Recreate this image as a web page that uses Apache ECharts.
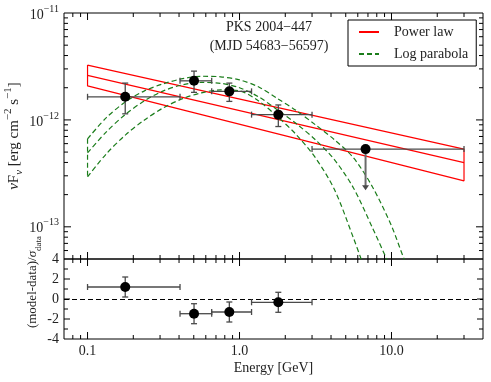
<!DOCTYPE html>
<html>
<head>
<meta charset="utf-8">
<script src="https://cdn.jsdelivr.net/npm/echarts@6/dist/echarts.min.js"></script>
<style>
  html, body { margin: 0; padding: 0; background: #fff; }
  #chart { width: 491px; height: 382px; }
</style>
</head>
<body>
<div id="chart"></div>
<script>
const FONT = 'Liberation Serif';

// flux points (GeV, erg cm^-2 s^-1)
const ptE = [0.177, 0.502, 0.857, 1.80];
const ptF = [1.645e-12, 2.32e-12, 1.85e-12, 1.12e-12];
const ptElo = [0.1, 0.406, 0.656, 1.2];
const ptEhi = [0.406, 0.656, 1.2, 3.0];
const ptFlo = [1.14e-12, 1.81e-12, 1.49e-12, 8.67e-13];
const ptFhi = [2.21e-12, 2.86e-12, 2.21e-12, 1.38e-12];

// upper limit bin
const ulE = [6.75];
const ulF = [5.33e-13];
const ulElo = [3.0];
const ulEhi = [30];
const ulArrowTo = [2.2e-13];

// power law: best fit and band edges at 0.1 and 30 GeV
const plE = [0.1, 30];
const plMid = [2.61e-12, 3.99e-13];
const plHi = [3.26e-12, 5.33e-13];
const plLo = [2.08e-12, 2.69e-13];

// log parabola curves
const lpE = [0.1, 0.133, 0.178, 0.237, 0.316, 0.422, 0.562, 0.75, 1.0, 1.33, 1.78, 2.37, 3.16, 4.22, 5.62, 7.5, 10, 12.1, 13.3];
const lpHi = [6.65e-13, 1.05e-12, 1.48e-12, 1.87e-12, 2.18e-12, 2.43e-12, 2.56e-12, 2.53e-12, 2.37e-12, 2.04e-12, 1.58e-12, 1.22e-12, 8.99e-13, 6.51e-13, 4.42e-13, 2.36e-13, 1.02e-13, 5.0e-14, 3.8e-14];
const lpMid = [4.92e-13, 7.74e-13, 1.13e-12, 1.51e-12, 1.87e-12, 2.13e-12, 2.24e-12, 2.20e-12, 2.00e-12, 1.65e-12, 1.24e-12, 9.19e-13, 6.51e-13, 4.23e-13, 2.31e-13, 9.77e-14, 3.95e-14];
const lpLoE = [0.1, 0.133, 0.178, 0.237, 0.316, 0.422, 0.562, 0.75, 1.0, 1.33, 1.78, 2.37, 3.16, 4.22, 5.62, 6.31, 7.08];
const lpLo = [2.93e-13, 4.82e-13, 7.25e-13, 1.00e-12, 1.30e-12, 1.58e-12, 1.79e-12, 1.91e-12, 1.87e-12, 1.51e-12, 1.07e-12, 7.25e-13, 4.42e-13, 2.22e-13, 7.87e-14, 5.0e-14, 3.18e-14];

// residuals (model-data)/sigma
const res = [1.2, -1.47, -1.3, -0.33];
const resErr = [1, 1, 1, 1];

// tick positions
const xMajor = [0.1, 1, 10];
const xMinor = [0.08, 0.09, 0.2, 0.3, 0.4, 0.5, 0.6, 0.7, 0.8, 0.9, 2, 3, 4, 5, 6, 7, 8, 9, 20, 30];
const yMajor = [1e-13, 1e-12];
const yMinor = [6e-14, 7e-14, 8e-14, 9e-14, 2e-13, 3e-13, 4e-13, 5e-13, 6e-13, 7e-13, 8e-13, 9e-13,
                2e-12, 3e-12, 4e-12, 5e-12, 6e-12, 7e-12, 8e-12, 9e-12];
const rMajor = [-2, 0, 2];
const rMinor = [-3, -1, 1, 3];

const chart = echarts.init(document.getElementById('chart'), null, {renderer: 'canvas'});

const zip = (xs, ys) => xs.map((x, i) => [x, ys[i]]);

function xTicks(gi, anchor, vals, len) {
  return {
    type: 'custom', xAxisIndex: gi, yAxisIndex: gi, silent: true, clip: false, z: 6,
    data: vals.map(v => [v, anchor]),
    renderItem: (params, api) => {
      const cs = params.coordSys;
      const x = api.coord([api.value(0), api.value(1)])[0];
      const st = {stroke: '#000', lineWidth: 1};
      return {type: 'group', children: [
        {type: 'line', shape: {x1: x, y1: cs.y + cs.height, x2: x, y2: cs.y + cs.height - len}, style: st},
        {type: 'line', shape: {x1: x, y1: cs.y, x2: x, y2: cs.y + len}, style: st}
      ]};
    }
  };
}

function yTicks(gi, anchor, vals, len) {
  return {
    type: 'custom', xAxisIndex: gi, yAxisIndex: gi, silent: true, clip: false, z: 6,
    data: vals.map(v => [anchor, v]),
    renderItem: (params, api) => {
      const cs = params.coordSys;
      const y = api.coord([api.value(0), api.value(1)])[1];
      const st = {stroke: '#000', lineWidth: 1};
      return {type: 'group', children: [
        {type: 'line', shape: {x1: cs.x, y1: y, x2: cs.x + len, y2: y}, style: st},
        {type: 'line', shape: {x1: cs.x + cs.width, y1: y, x2: cs.x + cs.width - len, y2: y}, style: st}
      ]};
    }
  };
}

// error bars with caps: [x, y, xlo, xhi, ylo, yhi]
function errBars(gi, rows) {
  return {
    type: 'custom', xAxisIndex: gi, yAxisIndex: gi, silent: true, clip: false, z: 7,
    data: rows,
    renderItem: (params, api) => {
      const l = api.coord([api.value(2), api.value(1)]);
      const r = api.coord([api.value(3), api.value(1)]);
      const b = api.coord([api.value(0), api.value(4)]);
      const t = api.coord([api.value(0), api.value(5)]);
      const cap = 3;
      const st = {stroke: '#4a4a4a', lineWidth: 1.3};
      return {type: 'group', children: [
        {type: 'line', shape: {x1: l[0], y1: l[1], x2: r[0], y2: r[1]}, style: st},
        {type: 'line', shape: {x1: l[0], y1: l[1] - cap, x2: l[0], y2: l[1] + cap}, style: st},
        {type: 'line', shape: {x1: r[0], y1: r[1] - cap, x2: r[0], y2: r[1] + cap}, style: st},
        {type: 'line', shape: {x1: b[0], y1: b[1], x2: t[0], y2: t[1]}, style: st},
        {type: 'line', shape: {x1: b[0] - cap, y1: b[1], x2: b[0] + cap, y2: b[1]}, style: st},
        {type: 'line', shape: {x1: t[0] - cap, y1: t[1], x2: t[0] + cap, y2: t[1]}, style: st}
      ]};
    }
  };
}

const ulSeries = {
  type: 'custom', xAxisIndex: 0, yAxisIndex: 0, silent: true, clip: false, z: 7,
  data: ulE.map((e, i) => [e, ulF[i], ulElo[i], ulEhi[i], ulArrowTo[i]]),
  renderItem: (params, api) => {
    const l = api.coord([api.value(2), api.value(1)]);
    const r = api.coord([api.value(3), api.value(1)]);
    const c = api.coord([api.value(0), api.value(1)]);
    const a = api.coord([api.value(0), api.value(4)]);
    const cap = 3;
    const st = {stroke: '#4a4a4a', lineWidth: 1.3};
    return {type: 'group', children: [
      {type: 'line', shape: {x1: l[0], y1: l[1], x2: r[0], y2: r[1]}, style: st},
      {type: 'line', shape: {x1: l[0], y1: l[1] - cap, x2: l[0], y2: l[1] + cap}, style: st},
      {type: 'line', shape: {x1: r[0], y1: r[1] - cap, x2: r[0], y2: r[1] + cap}, style: st},
      {type: 'line', shape: {x1: c[0], y1: c[1], x2: a[0], y2: a[1] - 4}, style: {stroke: '#6a6a6a', lineWidth: 2}},
      {type: 'polygon', shape: {points: [[a[0] - 3.5, a[1] - 5], [a[0] + 3.5, a[1] - 5], [a[0], a[1]]]}, style: {fill: '#4a4a4a'}}
    ]};
  }
};

const RED = '#ff0000';
const GREEN = '#1b7d1b';
const lineBase = {type: 'line', xAxisIndex: 0, yAxisIndex: 0, symbol: 'none', showSymbol: false, silent: true, animation: false, z: 3};
const red = {color: RED, width: 1.2};
const green = {color: GREEN, width: 1.2, type: [5, 3]};

const supRich = {
  b: {fontFamily: FONT, fontSize: 14, color: '#222', verticalAlign: 'bottom', lineHeight: 18},
  s: {fontFamily: FONT, fontSize: 10, color: '#222', verticalAlign: 'top', lineHeight: 18}
};

const option = {
  animation: false,
  backgroundColor: '#fff',
  grid: [
    {left: 64, right: 8, top: 13, height: 246, show: true, borderColor: '#000', borderWidth: 1, backgroundColor: 'transparent'},
    {left: 64, right: 8, top: 259, height: 80, show: true, borderColor: '#000', borderWidth: 1, backgroundColor: 'transparent'}
  ],
  xAxis: [
    {type: 'log', gridIndex: 0, min: 0.07, max: 40,
     axisLine: {show: false}, axisTick: {show: false}, axisLabel: {show: false}, splitLine: {show: false}},
    {type: 'log', gridIndex: 1, min: 0.07, max: 40,
     axisLine: {show: false}, axisTick: {show: false}, splitLine: {show: false},
     axisLabel: {margin: 5, fontFamily: FONT, fontSize: 14, color: '#222',
       formatter: v => {
         const l = Math.log10(v);
         if (Math.abs(l - Math.round(l)) > 1e-6) return '';
         return Math.pow(10, Math.round(l)).toFixed(1);
       }},
     name: 'Energy [GeV]', nameLocation: 'middle', nameGap: 22,
     nameTextStyle: {fontFamily: FONT, fontSize: 14, color: '#222'}}
  ],
  yAxis: [
    {type: 'log', gridIndex: 0, min: 5e-14, max: 1e-11,
     axisLine: {show: false}, axisTick: {show: false}, splitLine: {show: false},
     axisLabel: {margin: 5, rich: supRich,
       formatter: v => {
         const l = Math.log10(v);
         if (Math.abs(l - Math.round(l)) > 1e-6) return '';
         return '{b|10}{s|\u2212' + (-Math.round(l)) + '}';
       }}},
    {type: 'value', gridIndex: 1, min: -4, max: 4, interval: 2,
     axisLine: {show: false}, axisTick: {show: false}, splitLine: {show: false},
     axisLabel: {margin: 5, fontFamily: FONT, fontSize: 14, color: '#222', showMinLabel: true, showMaxLabel: true}}
  ],
  legend: {
    data: ['Power law', 'Log parabola'],
    orient: 'vertical', left: 348, top: 20,
    itemWidth: 20, itemHeight: 12, itemGap: 8,
    padding: [5, 8, 5, 10],
    borderColor: '#000', borderWidth: 1, borderRadius: 0,
    selectedMode: false,
    itemStyle: {opacity: 0},
    textStyle: {fontFamily: FONT, fontSize: 14, color: '#222', padding: [0, 0, 0, 10]}
  },
  graphic: [
    {type: 'text', x: 14, y: 136, rotation: Math.PI / 2, silent: true,
     style: {
       text: '{i|\u03bd}{b|F}{sb|\u03bd}{b| [erg cm}{sp|\u22122}{b| s}{sp|\u22121}{b|]}',
       align: 'center', verticalAlign: 'middle',
       rich: {
         b: {fontFamily: FONT, fontSize: 15, fill: '#222', verticalAlign: 'middle', lineHeight: 22},
         i: {fontFamily: FONT, fontSize: 15, fontStyle: 'italic', fill: '#222', verticalAlign: 'middle', lineHeight: 22},
         sp: {fontFamily: FONT, fontSize: 11, fill: '#222', verticalAlign: 'top'},
         sb: {fontFamily: FONT, fontSize: 11, fontStyle: 'italic', fill: '#222', verticalAlign: 'bottom'}
       }
     }},
    {type: 'text', x: 33, y: 282, rotation: Math.PI / 2, silent: true,
     style: {
       text: '{b|(model-data)/}{i|\u03c3}{sb|data}',
       align: 'center', verticalAlign: 'middle',
       rich: {
         b: {fontFamily: FONT, fontSize: 13, fill: '#222', verticalAlign: 'middle', lineHeight: 20},
         i: {fontFamily: FONT, fontSize: 13, fontStyle: 'italic', fill: '#222', verticalAlign: 'middle', lineHeight: 20},
         sb: {fontFamily: FONT, fontSize: 9, fill: '#222', verticalAlign: 'bottom'}
       }
     }},
    {type: 'text', x: 269, y: 37, silent: true,
     style: {
       text: 'PKS 2004\u2212447\n(MJD 54683\u221256597)',
       align: 'center', verticalAlign: 'middle', lineHeight: 19,
       fontFamily: FONT, fontSize: 14, fill: '#222'
     }}
  ],
  series: [
    // power law band outline and best fit
    Object.assign({}, lineBase, {name: 'Power law', lineStyle: red, itemStyle: {color: RED},
      data: [[plE[0], plHi[0]], [plE[1], plHi[1]], [plE[1], plLo[1]], [plE[0], plLo[0]], [plE[0], plHi[0]]]}),
    Object.assign({}, lineBase, {name: 'Power law', lineStyle: red, itemStyle: {color: RED}, data: zip(plE, plMid)}),
    // log parabola band and best fit
    Object.assign({}, lineBase, {name: 'Log parabola', lineStyle: green, itemStyle: {color: GREEN}, smooth: 0.3, data: zip(lpE, lpHi)}),
    Object.assign({}, lineBase, {name: 'Log parabola', lineStyle: green, itemStyle: {color: GREEN}, smooth: 0.3, data: zip(lpE, lpMid)}),
    Object.assign({}, lineBase, {name: 'Log parabola', lineStyle: green, itemStyle: {color: GREEN}, smooth: 0.3, data: zip(lpLoE, lpLo)}),
    Object.assign({}, lineBase, {name: 'Log parabola', lineStyle: green, itemStyle: {color: GREEN}, data: [[lpE[0], lpHi[0]], [lpE[0], lpLo[0]]]}),
    // flux points
    errBars(0, ptE.map((e, i) => [e, ptF[i], ptElo[i], ptEhi[i], ptFlo[i], ptFhi[i]])),
    ulSeries,
    {type: 'scatter', xAxisIndex: 0, yAxisIndex: 0, symbol: 'circle', symbolSize: 10, z: 8, silent: true,
     itemStyle: {color: '#000', opacity: 1}, data: zip(ptE.concat(ulE), ptF.concat(ulF))},
    // residuals
    errBars(1, ptE.map((e, i) => [e, res[i], ptElo[i], ptEhi[i], res[i] - resErr[i], res[i] + resErr[i]])),
    {type: 'scatter', xAxisIndex: 1, yAxisIndex: 1, symbol: 'circle', symbolSize: 10, z: 8, silent: true,
     itemStyle: {color: '#000', opacity: 1}, data: zip(ptE, res),
     markLine: {silent: true, symbol: 'none', animation: false, label: {show: false},
       lineStyle: {color: '#000', width: 1, type: [5, 3]}, data: [{yAxis: 0}]}},
    // ticks
    xTicks(0, 1e-12, xMajor, 7), xTicks(0, 1e-12, xMinor, 4),
    yTicks(0, 1, yMajor, 7), yTicks(0, 1, yMinor, 4),
    xTicks(1, 0, xMajor, 7), xTicks(1, 0, xMinor, 4),
    yTicks(1, 1, rMajor, 6), yTicks(1, 1, rMinor, 4)
  ]
};

chart.setOption(option);
</script>
</body>
</html>
